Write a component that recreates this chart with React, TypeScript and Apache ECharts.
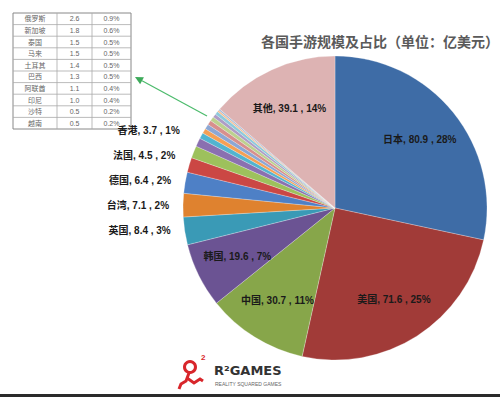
import React, { useEffect, useRef } from "react";
import * as echarts from "echarts";

const names = ["日本", "美国", "中国", "韩国", "英国", "台湾", "德国", "法国", "香港", "俄罗斯", "新加坡", "泰国", "马来", "土耳其", "巴西", "阿联酋", "印尼", "沙特", "越南", "其他"];
const values = [80.9, 71.6, 30.7, 19.6, 8.4, 7.1, 6.4, 4.5, 3.7, 2.6, 1.8, 1.5, 1.5, 1.4, 1.3, 1.1, 1.0, 0.5, 0.5, 39.1];
const colors = ["#3E6CA6", "#A13B38", "#87A64A", "#6B5393", "#3A9AB6", "#DF822F", "#4E80C6", "#CB4744", "#9DC15C", "#8A70B0", "#52B4D0", "#F5A055", "#8CA7D4", "#D78F8D", "#BCD18E", "#AE9DC6", "#8ECADB", "#F8BB8C", "#A9BCD8", "#DDB3B3"];
const insideLabelNames = ["日本", "美国", "中国", "韩国", "其他"];
const outsideLabelNames = ["英国", "台湾", "德国", "法国", "香港"];

const tableNames = ["俄罗斯", "新加坡", "泰国", "马来", "土耳其", "巴西", "阿联酋", "印尼", "沙特", "越南"];
const tableValues = ["2.6", "1.8", "1.5", "1.5", "1.4", "1.3", "1.1", "1.0", "0.5", "0.5"];
const tablePcts = ["0.9%", "0.6%", "0.5%", "0.5%", "0.5%", "0.5%", "0.4%", "0.4%", "0.2%", "0.2%"];

const titleText = "各国手游规模及占比（单位：亿美元）";

const FONT = "'Liberation Sans', 'Noto Sans CJK SC', sans-serif";

function fmt(p: any) {
  return `${p.name}, ${p.value} , ${Math.round(p.percent)}%`;
}

export default function App() {
  const ref = useRef<HTMLDivElement>(null);
  useEffect(() => {
    if (!ref.current) return;
    const chart = echarts.init(ref.current, undefined, { renderer: "svg" });

    // Table graphic
    const tX = [13, 57, 92, 131];
    const tY0 = 13;
    const rowH = 11.6;
    const tableEls: any[] = [];
    tableEls.push({
      type: "rect",
      shape: { x: tX[0], y: tY0, width: tX[3] - tX[0], height: rowH * tableNames.length },
      style: { fill: "#fff", stroke: "#888", lineWidth: 1 },
    });
    for (let i = 1; i < tableNames.length; i++) {
      tableEls.push({
        type: "line",
        shape: { x1: tX[0], y1: tY0 + rowH * i, x2: tX[3], y2: tY0 + rowH * i },
        style: { stroke: "#aaa", lineWidth: 0.8 },
      });
    }
    [tX[1], tX[2]].forEach((x) =>
      tableEls.push({
        type: "line",
        shape: { x1: x, y1: tY0, x2: x, y2: tY0 + rowH * tableNames.length },
        style: { stroke: "#aaa", lineWidth: 0.8 },
      })
    );
    const cols = [tableNames, tableValues, tablePcts];
    cols.forEach((col, c) => {
      col.forEach((txt, r) => {
        tableEls.push({
          type: "text",
          x: (tX[c] + tX[c + 1]) / 2,
          y: tY0 + rowH * r + rowH / 2,
          style: {
            text: txt,
            fill: "#666",
            font: `7px ${FONT}`,
            align: "center",
            verticalAlign: "middle",
          },
        });
      });
    });

    // arrow
    const tip = [135, 77];
    const tail = [207, 116];
    const dx = tip[0] - tail[0];
    const dy = tip[1] - tail[1];
    const len = Math.sqrt(dx * dx + dy * dy);
    const ux = dx / len;
    const uy = dy / len;
    const bx = tip[0] - ux * 8;
    const by = tip[1] - uy * 8;
    const px = -uy * 4;
    const py = ux * 4;

    const option: any = {
      animation: false,
      backgroundColor: "#fff",
      title: {
        text: titleText,
        left: 256,
        top: 29,
        textStyle: { fontSize: 14, color: "#5a5a5a", fontWeight: "bold", fontFamily: "'Noto Sans CJK SC', sans-serif" },
      },
      series: [
        {
          type: "pie",
          center: [335, 208],
          radius: [0, 152],
          startAngle: 90,
          clockwise: true,
          avoidLabelOverlap: true,
          silent: true,
          emphasis: { disabled: true },
          itemStyle: { borderColor: "rgba(255,255,255,0.5)", borderWidth: 0.5 },
          label: {
            position: "outside",
            alignTo: "labelLine",
            distanceToLabelLine: 1,
            formatter: fmt,
            fontSize: 10,
            fontWeight: "bold",
            color: "#1a1a1a",
            fontFamily: FONT,
            lineHeight: 23,
          },
          labelLayout: { dx: -12, dy: -21 },
          labelLine: { show: false, length: 1, length2: 0 },
          data: names.map((n, i) => ({
            name: n,
            value: values[i],
            itemStyle: { color: colors[i] },
            label: { show: outsideLabelNames.includes(n) },
          })),
        },
        {
          type: "pie",
          center: [335, 208],
          radius: [60, 152],
          startAngle: 90,
          clockwise: true,
          silent: true,
          emphasis: { disabled: true },
          itemStyle: { color: "rgba(0,0,0,0)", borderWidth: 0 },
          label: {
            position: "inside",
            formatter: fmt,
            fontSize: 10,
            fontWeight: "bold",
            color: "#1a1a1a",
            fontFamily: FONT,
            textBorderWidth: 0,
          },
          labelLine: { show: false },
          data: names.map((n, i) => ({
            name: n,
            value: values[i],
            label: { show: insideLabelNames.includes(n) },
          })),
        },
      ],
      graphic: [
        ...tableEls,
        {
          type: "line",
          shape: { x1: tail[0], y1: tail[1], x2: bx, y2: by },
          style: { stroke: "#4CBB6C", lineWidth: 1.2 },
        },
        {
          type: "polygon",
          shape: { points: [tip, [bx + px, by + py], [bx - px, by - py]] },
          style: { fill: "#3DAA5A" },
        },
        // logo figure
        {
          type: "circle",
          shape: { cx: 190, cy: 367, r: 5.5 },
          style: { fill: "none", stroke: "#D8262B", lineWidth: 3 },
        },
        {
          type: "polyline",
          shape: { points: [[189, 373], [186, 381], [181, 384], [179, 389]] },
          style: { stroke: "#D8262B", lineWidth: 3, fill: "none" },
        },
        {
          type: "polyline",
          shape: { points: [[187, 378], [194, 383], [200, 379], [203, 381]] },
          style: { stroke: "#D8262B", lineWidth: 3, fill: "none" },
        },
        {
          type: "text",
          x: 201,
          y: 353,
          style: { text: "2", fill: "#D8262B", font: `bold 8px ${FONT}` },
        },
        {
          type: "text",
          x: 214,
          y: 364,
          style: { text: "R²GAMES", fill: "#333", font: `bold 13px 'DejaVu Sans', sans-serif` },
        },
        {
          type: "text",
          x: 215,
          y: 381,
          style: { text: "REALITY SQUARED GAMES", fill: "#666", font: `5px ${FONT}` },
        },
        {
          type: "rect",
          shape: { x: 0, y: 394, width: 500, height: 3 },
          style: { fill: "#2a2a2a" },
        },
      ],
    };
    chart.setOption(option);
    return () => chart.dispose();
  }, []);
  return <div ref={ref} style={{ position: "absolute", left: 0, top: 0, width: 500, height: 397 }} />;
}
